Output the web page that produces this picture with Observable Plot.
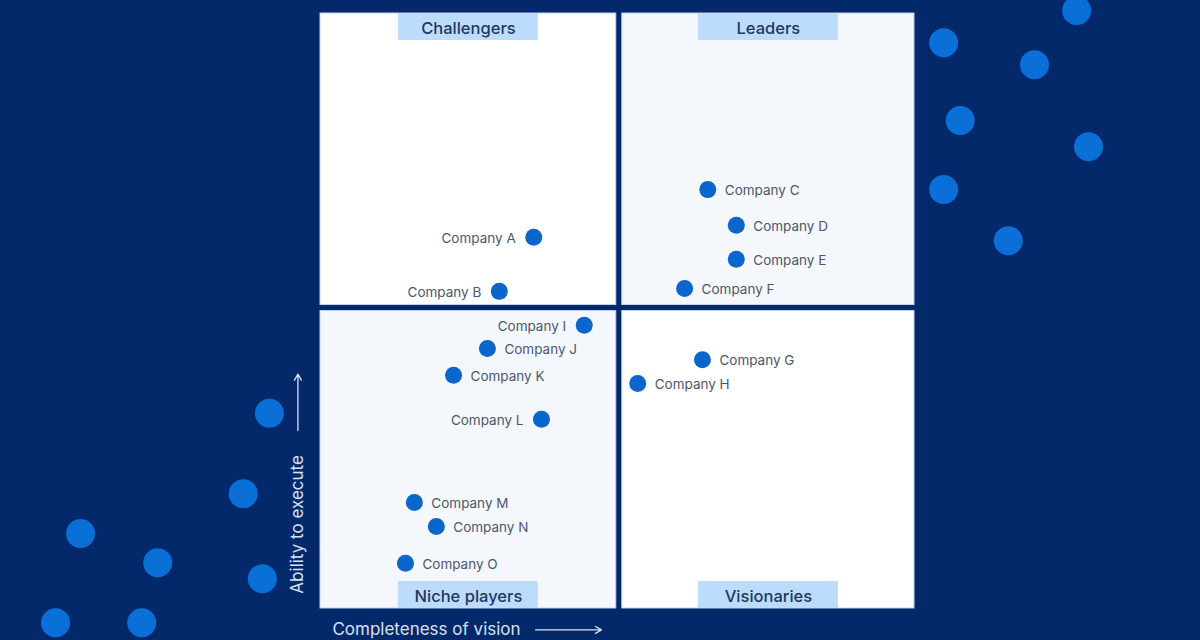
<!DOCTYPE html>
<html>
<head>
<meta charset="utf-8">
<script src="https://cdn.jsdelivr.net/npm/d3@7"></script>
<script src="https://cdn.jsdelivr.net/npm/@observablehq/plot@0.6"></script>
<style>
  html, body { margin: 0; padding: 0; background: #04296b; }
  #chart svg { display: block; }
</style>
</head>
<body>
<div id="chart"></div>
<script>
// Vendor positions: completeness of vision (x) and ability to execute (y), 0–100
const companies = ["Company A","Company B","Company C","Company D","Company E","Company F","Company G","Company H",
                   "Company I","Company J","Company K","Company L","Company M","Company N","Company O"];
const vision    = [35.9, 30.1, 65.2, 70.0, 70.0, 61.3, 64.3, 53.4, 44.4, 28.1, 22.4, 37.2, 15.8, 19.5, 14.3];
const execution = [62.4, 53.3, 70.4, 64.4, 58.7, 53.8, 41.8, 37.8, 47.6, 43.7, 39.2, 31.8, 17.8, 13.8,  7.6];
const labelSide = ["left","left","right","right","right","right","right","right",
                   "left","right","right","left","right","right","right"];

// Quadrants
const quadrantNames = ["Challengers", "Leaders", "Niche players", "Visionaries"];
const quadrantFill  = ["#ffffff", "#f4f8fd", "#f4f8fd", "#ffffff"];

// Decorative dots around the matrix
const decoX = [104.9, 127.3, 120.2, 107.7, 129.3, 104.9, 115.8, -8.6, -13.0, -40.4, -27.4, -9.8, -44.6, -30.1];
const decoY = [ 95.1, 100.5,  91.4,  82.0,  77.6,  70.4,  61.8, 32.8,  19.3,  12.6,   7.7,  5.0,  -2.4,  -2.4];

const xAxisTitle = "Completeness of vision";
const yAxisTitle = "Ability to execute";

const midX = 50.3, midY = 50.5;
const pxX = 594 / 100, pxY = 595 / 100;   // pixels per unit
const gap = 3;                            // half gap between panels (px)

const quads = quadrantNames.map((name, i) => {
  const left = i % 2 === 0, top = i < 2;
  return {
    name,
    fill: quadrantFill[i],
    x1: left ? 0 : midX + gap / pxX,
    x2: left ? midX - gap / pxX : 100,
    y1: top ? midY + gap / pxY : 0,
    y2: top ? 100 : midY - gap / pxY,
    top
  };
});

const bannerW = 140 / pxX, bannerH = 27 / pxY;
const banners = quads.map(q => {
  const cx = (q.x1 + q.x2) / 2;
  return {
    name: q.name,
    x1: cx - bannerW / 2, x2: cx + bannerW / 2,
    y1: q.top ? 100 - bannerH : 0,
    y2: q.top ? 100 : bannerH,
    cx, cy: q.top ? 100 - bannerH / 2 : bannerH / 2
  };
});

const points = companies.map((name, i) => ({ name, x: vision[i], y: execution[i], side: labelSide[i] }));
const deco = decoX.map((x, i) => ({ x, y: decoY[i] }));

const font = "Inter, 'Noto Sans', sans-serif";

const chart = Plot.plot({
  width: 1200,
  height: 640,
  margin: 0,
  style: { background: "#04296b", fontFamily: font },
  x: { domain: [0, 100], range: [320, 914], axis: null },
  y: { domain: [0, 100], range: [608, 13], axis: null },
  marks: [
    Plot.dot(deco, { x: "x", y: "y", r: 14.5, fill: "#0a6fd6" }),
    Plot.rect(quads, { x1: "x1", x2: "x2", y1: "y1", y2: "y2", fill: "fill", stroke: "#c3d2ea", strokeWidth: 1 }),
    Plot.rect(banners, { x1: "x1", x2: "x2", y1: "y1", y2: "y2", fill: "#bddcfb" }),
    Plot.text(banners, { x: "cx", y: "cy", text: "name", dy: 1.5, fontSize: 16.5, fontWeight: 500, fill: "#1e3763" }),
    Plot.dot(points, { x: "x", y: "y", r: 8.5, fill: "#0b66cc" }),
    Plot.text(points.filter(d => d.side === "right"), { x: "x", y: "y", text: "name", textAnchor: "start", dx: 17, dy: 1, fontSize: 13.5, fill: "#4d566b" }),
    Plot.text(points.filter(d => d.side === "left"), { x: "x", y: "y", text: "name", textAnchor: "end", dx: -18, dy: 1, fontSize: 13.5, fill: "#4d566b" }),
    // Axis titles with arrows
    Plot.text([xAxisTitle], { x: 2.0, y: -3.6, text: d => d, textAnchor: "start", fontSize: 17, fill: "#d8e1ef" }),
    Plot.arrow([0], { x1: 36.2, x2: 47.3, y1: -3.6, y2: -3.6, stroke: "#d8e1ef", strokeWidth: 1.3, headLength: 8 }),
    Plot.text([yAxisTitle], { x: -3.8, y: 2.5, text: d => d, rotate: -90, textAnchor: "start", fontSize: 17, fill: "#d8e1ef" }),
    Plot.arrow([0], { x1: -3.8, x2: -3.8, y1: 29.9, y2: 39.4, stroke: "#d8e1ef", strokeWidth: 1.3, headLength: 8 })
  ]
});

document.getElementById("chart").appendChild(chart);
</script>
</body>
</html>
